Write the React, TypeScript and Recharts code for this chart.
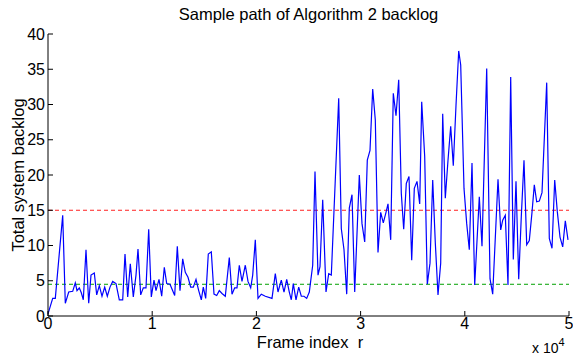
import { LineChart, Line, XAxis, YAxis, ReferenceLine } from "recharts";

const frames = [
  0, 451, 701, 1411, 1660, 1987, 2370, 2620, 2783, 3004, 3196, 3388, 3647, 3906, 4127, 4443, 4674, 4923, 5182, 5441,
  5691, 5950, 6209, 6526, 6843, 7169, 7390, 7649, 7898, 8186, 8445, 8637, 8896, 9146, 9405, 9664, 9914, 10173, 10365, 10653,
  10912, 11161, 11392, 11708, 12159, 12409, 12668, 12927, 13177, 13436, 13695, 13945, 14204, 14463, 14712, 14904, 15134, 15384, 15672, 15931,
  16190, 16440, 16699, 17015, 17399, 17658, 17917, 18138, 18359, 18618, 18935, 19194, 19453, 19645, 19895, 20154, 20470, 20854, 21497, 21814,
  22073, 22390, 22649, 22908, 23157, 23349, 23541, 23801, 24060, 24309, 24568, 24827, 25077, 25403, 25624, 25912, 26104, 26363, 26680, 26939,
  27189, 27899, 28148, 28407, 28667, 28916, 29175, 29434, 29876, 30135, 30394, 30643, 30902, 31161, 31411, 31670, 31929, 32179, 32438, 32630,
  32889, 33138, 33398, 33657, 33906, 34136, 34386, 34645, 34904, 35154, 35413, 35672, 35864, 36152, 36401, 36661, 36920, 37169, 37428, 37687,
  37879, 38129, 38388, 38647, 38896, 39156, 39415, 39607, 39924, 40183, 40432, 40691, 40950, 41392, 41651, 42102, 42419, 42678, 43187, 43446,
  43638, 43887, 44146, 44405, 44655, 44914, 45173, 45422, 45681, 45941, 46190, 46449, 46670, 46900, 47150, 47409, 47860, 48110, 48369, 48628,
  48878, 49137, 49396, 49646, 49905,
];

const backlog = [
  0.3, 2.5, 2.5, 14.3, 1.8, 3.4, 3.5, 4.7, 3.6, 4.0, 3.3, 2.3, 9.4, 1.8, 5.8, 6.1, 3.0, 4.3, 2.8, 4.1,
  2.8, 4.1, 4.9, 4.6, 2.3, 2.3, 8.8, 2.7, 7.4, 2.7, 5.8, 9.5, 3.0, 4.0, 4.0, 12.3, 2.7, 5.1, 3.6, 5.2,
  2.8, 6.9, 4.6, 4.5, 2.9, 9.9, 3.6, 8.1, 6.2, 5.5, 4.1, 4.1, 5.2, 3.6, 2.3, 4.1, 2.5, 8.8, 9.1, 3.1,
  2.9, 3.6, 3.2, 2.8, 8.3, 3.1, 4.0, 4.0, 7.2, 4.9, 7.2, 4.9, 4.0, 5.8, 10.8, 2.5, 3.1, 2.8, 2.5, 6.0,
  3.4, 5.1, 3.4, 5.2, 3.4, 2.3, 4.6, 2.3, 4.1, 2.8, 2.8, 2.5, 3.4, 7.2, 20.5, 5.8, 7.0, 16.5, 3.4, 6.0,
  5.8, 30.9, 12.4, 9.4, 3.1, 15.3, 17.2, 3.4, 20.0, 13.1, 10.5, 22.1, 23.5, 32.2, 27.8, 9.0, 14.7, 13.2, 14.7, 15.9,
  10.8, 31.6, 28.4, 33.5, 17.4, 12.3, 18.8, 19.8, 7.9, 18.1, 19.1, 15.9, 30.4, 22.6, 4.5, 7.5, 19.3, 10.4, 3.0, 7.5,
  28.7, 16.7, 22.1, 26.9, 21.3, 29.9, 37.6, 35.6, 18.1, 13.1, 9.4, 21.7, 4.4, 16.9, 9.9, 35.1, 5.3, 3.1, 19.4, 12.2,
  13.6, 14.3, 4.4, 33.9, 8.0, 19.1, 5.2, 14.1, 22.1, 10.1, 10.7, 14.7, 18.6, 16.2, 16.3, 17.5, 33.1, 11.0, 9.6, 19.3,
  14.8, 11.2, 9.8, 13.5, 10.8,
];

const xTicks = [0, 10000, 20000, 30000, 40000, 50000];
const yTicks = [0, 5, 10, 15, 20, 25, 30, 35, 40];
const upperLevel = 15;
const lowerLevel = 4.5;

const data = frames.map((f, i) => ({ frame: f, backlog: backlog[i] }));

const font = '"Liberation Sans", Arial, Helvetica, sans-serif';
const tickStyle = { fill: "#000", fontSize: 16, fontFamily: font };

export default function App() {
  return (
    <div style={{ position: "absolute", left: 0, top: 0, width: 573, height: 356, background: "#fff", fontFamily: font }}>
      <LineChart
        width={573}
        height={356}
        data={data}
        margin={{ top: 34, right: 4, bottom: 20, left: 18 }}
      >
        <XAxis
          dataKey="frame"
          type="number"
          domain={[0, 50000]}
          ticks={xTicks}
          interval={0}
          height={20}
          tickSize={-5}
          tickMargin={7}
          stroke="#000"
          tick={tickStyle}
          tickFormatter={(v) => String(v / 10000)}
        />
        <XAxis
          xAxisId="top"
          orientation="top"
          dataKey="frame"
          type="number"
          domain={[0, 50000]}
          ticks={xTicks}
          interval={0}
          height={0}
          tickSize={-5}
          stroke="#000"
          tickFormatter={() => ""}
        />
        <YAxis
          type="number"
          domain={[0, 40]}
          ticks={yTicks}
          interval={0}
          width={30}
          tickSize={-5}
          tickMargin={8}
          stroke="#000"
          tick={tickStyle}
        />
        <YAxis
          yAxisId="right"
          orientation="right"
          type="number"
          domain={[0, 40]}
          ticks={yTicks}
          interval={0}
          width={0}
          tickSize={-5}
          stroke="#000"
          tickFormatter={() => ""}
        />
        <ReferenceLine y={upperLevel} stroke="#ff2020" strokeDasharray="4 3" strokeWidth={1} />
        <ReferenceLine y={lowerLevel} stroke="#00a000" strokeDasharray="4 3" strokeWidth={1} />
        <Line
          type="linear"
          dataKey="backlog"
          stroke="#0000ff"
          strokeWidth={1.2}
          dot={false}
          isAnimationActive={false}
        />
      </LineChart>

      <div style={{ position: "absolute", left: 48, width: 521, top: 5, textAlign: "center", fontSize: 16.5, color: "#000" }}>
        Sample path of Algorithm 2 backlog
      </div>
      <div
        style={{
          position: "absolute",
          left: 18 - 100,
          top: 175 - 10,
          width: 200,
          height: 20,
          lineHeight: "20px",
          textAlign: "center",
          fontSize: 16.5,
          transform: "rotate(-90deg)",
          color: "#000",
        }}
      >
        Total system backlog
      </div>
      <div
        style={{
          position: "absolute",
          left: 210,
          width: 200,
          top: 333,
          height: 18,
          lineHeight: "18px",
          textAlign: "center",
          fontSize: 16.5,
          color: "#000",
          whiteSpace: "pre",
        }}
      >
        {"Frame index  r"}
      </div>
      <div style={{ position: "absolute", left: 532, top: 337, fontSize: 14, color: "#000", whiteSpace: "pre" }}>
        {"x 10"}
        <sup style={{ fontSize: 11, position: "relative", top: -1 }}>4</sup>
      </div>
    </div>
  );
}
